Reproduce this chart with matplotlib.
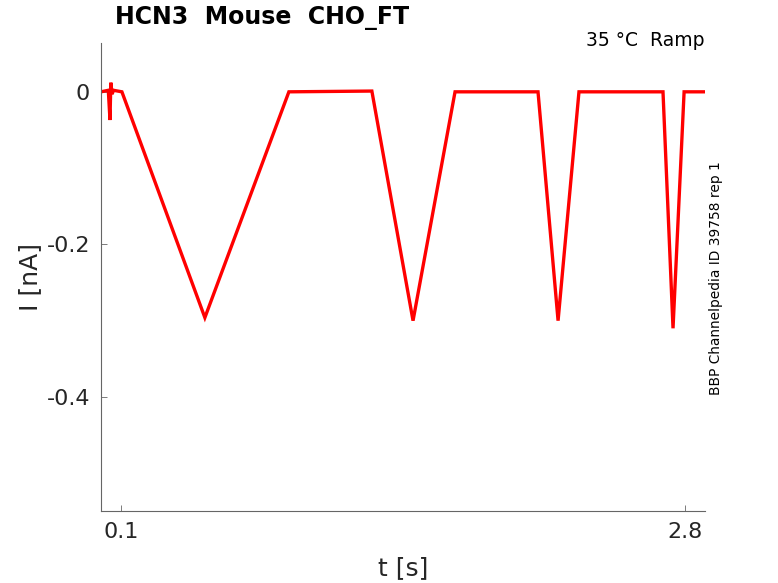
import matplotlib
matplotlib.use("Agg")
import matplotlib.pyplot as plt

# ramp protocol current trace, breakpoints
t_s = [0.005, 0.040, 0.048, 0.052, 0.058, 0.065, 0.105, 0.502, 0.904,
       1.301, 1.498, 1.699, 2.096, 2.192, 2.292, 2.694, 2.742, 2.795, 2.895]
i_na = [0.000, 0.002, -0.037, 0.012, -0.003, 0.002, 0.000, -0.296, 0.000,
        0.001, -0.300, 0.000, 0.000, -0.300, 0.000, 0.000, -0.310, 0.000, 0.000]

x_ticks = [0.1, 2.8]
x_ticklabels = ["0.1", "2.8"]
y_ticks = [-0.4, -0.2, 0]
y_ticklabels = ["-0.4", "-0.2", "0"]

fig = plt.figure(figsize=(7.78, 5.83), dpi=100)
ax = fig.add_axes([101 / 778, 1 - 511 / 583, 604 / 778, 468 / 583])

ax.plot(t_s, i_na, color="#ff0000", lw=2.4, solid_joinstyle="miter")

ax.set_xlim(0.005, 2.895)
ax.set_ylim(-0.5495, 0.064)
ax.set_xticks(x_ticks)
ax.set_xticklabels(x_ticklabels)
ax.set_yticks(y_ticks)
ax.set_yticklabels(y_ticklabels)

for side in ("top", "right"):
    ax.spines[side].set_visible(False)
for side in ("left", "bottom"):
    ax.spines[side].set_color("#666666")
    ax.spines[side].set_linewidth(0.8)
ax.tick_params(direction="in", length=4, width=0.6, color="#666666",
               labelsize=16, labelcolor="#262626", pad=8)

ax.set_xlabel("t [s]", fontsize=18, color="#262626", labelpad=10)
ax.set_ylabel("I [nA]", fontsize=18, color="#262626", labelpad=3)

fig.text(115 / 778, 1 - 18 / 583, "HCN3  Mouse  CHO_FT", fontsize=17,
         fontweight="bold", ha="left", va="center")
fig.text(704 / 778, 1 - 41 / 583, "35 °C  Ramp", fontsize=13.5,
         ha="right", va="center")
fig.text(716 / 778, 1 - 278 / 583, "BBP Channelpedia ID 39758 rep 1",
         fontsize=9.9, rotation=90, ha="center", va="center")

fig.savefig("out.png", dpi=100)
